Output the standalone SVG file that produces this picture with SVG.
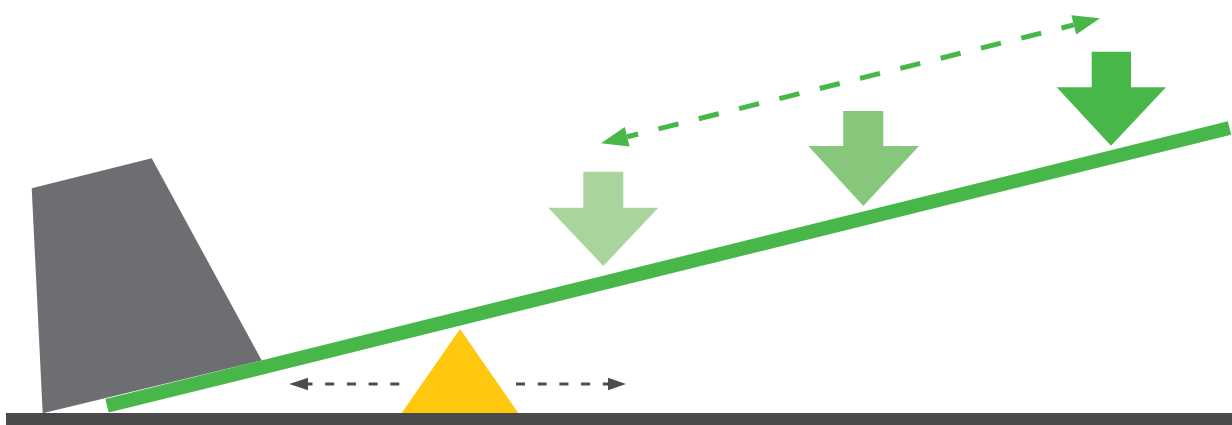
<svg xmlns="http://www.w3.org/2000/svg" width="1232" height="425" viewBox="0 0 1232 425">
  <style>
    .gdash { fill: none; stroke: #4d4d4f; stroke-width: 3; stroke-dasharray: 9 12.7; }
    .ghead { fill: #4d4d4f; }
    .green { fill: #47b749; }
    .vdash { fill: none; stroke: #47b749; stroke-width: 5; stroke-dasharray: 20.6 20.95; stroke-dashoffset: 9.3; }
  </style>
  <rect width="1232" height="425" fill="#ffffff"/>
  <g id="ground">
    <rect x="6" y="413" width="1226" height="12" fill="#4a4a4c"/>
  </g>
  <g id="weight">
    <polygon points="31.7,188.3 151.7,158.3 261.7,360.5 42.7,413.3" fill="#6d6e71"/>
  </g>
  <g id="beam">
    <line x1="107" y1="405.8" x2="1229.5" y2="128" stroke="#47b749" stroke-width="14"/>
  </g>
  <g id="fulcrum">
    <polygon points="460,329 401.7,413 518.3,413" fill="#fdc80e"/>
  </g>
  <g id="arrow-light">
    <polygon points="583.3,171.7 623.3,171.7 623.3,207.7 658.3,207.7 603.3,266 548.3,207.7 583.3,207.7" fill="#a9d59c"/>
  </g>
  <g id="arrow-medium">
    <polygon points="843.3,111 883.3,111 883.3,146 919,146 863.3,206 808.3,146 843.3,146" fill="#86c77c"/>
  </g>
  <g id="arrow-dark">
    <polygon points="1091.7,51.7 1131,51.7 1131,87.3 1166,87.3 1111,145.7 1056.7,87.3 1091.7,87.3" fill="#47b749"/>
  </g>
  <g id="connectors">
    <line class="gdash" x1="399.3" y1="384" x2="307.7" y2="384"/>
    <polygon class="ghead" points="289.3,384 308,377.7 308,390.3"/>
    <line class="gdash" x1="516" y1="384" x2="608.3" y2="384"/>
    <polygon class="ghead" points="626,384 608,377.7 608,390.3"/>
    <line class="vdash" x1="627.2" y1="136.7" x2="1073.8" y2="24.9"/>
    <polygon class="green" points="601,143.3 624.8,127 629.6,146.4"/>
    <polygon class="green" points="1100,18.3 1071.4,15.2 1076.2,34.6"/>
  </g>
</svg>
